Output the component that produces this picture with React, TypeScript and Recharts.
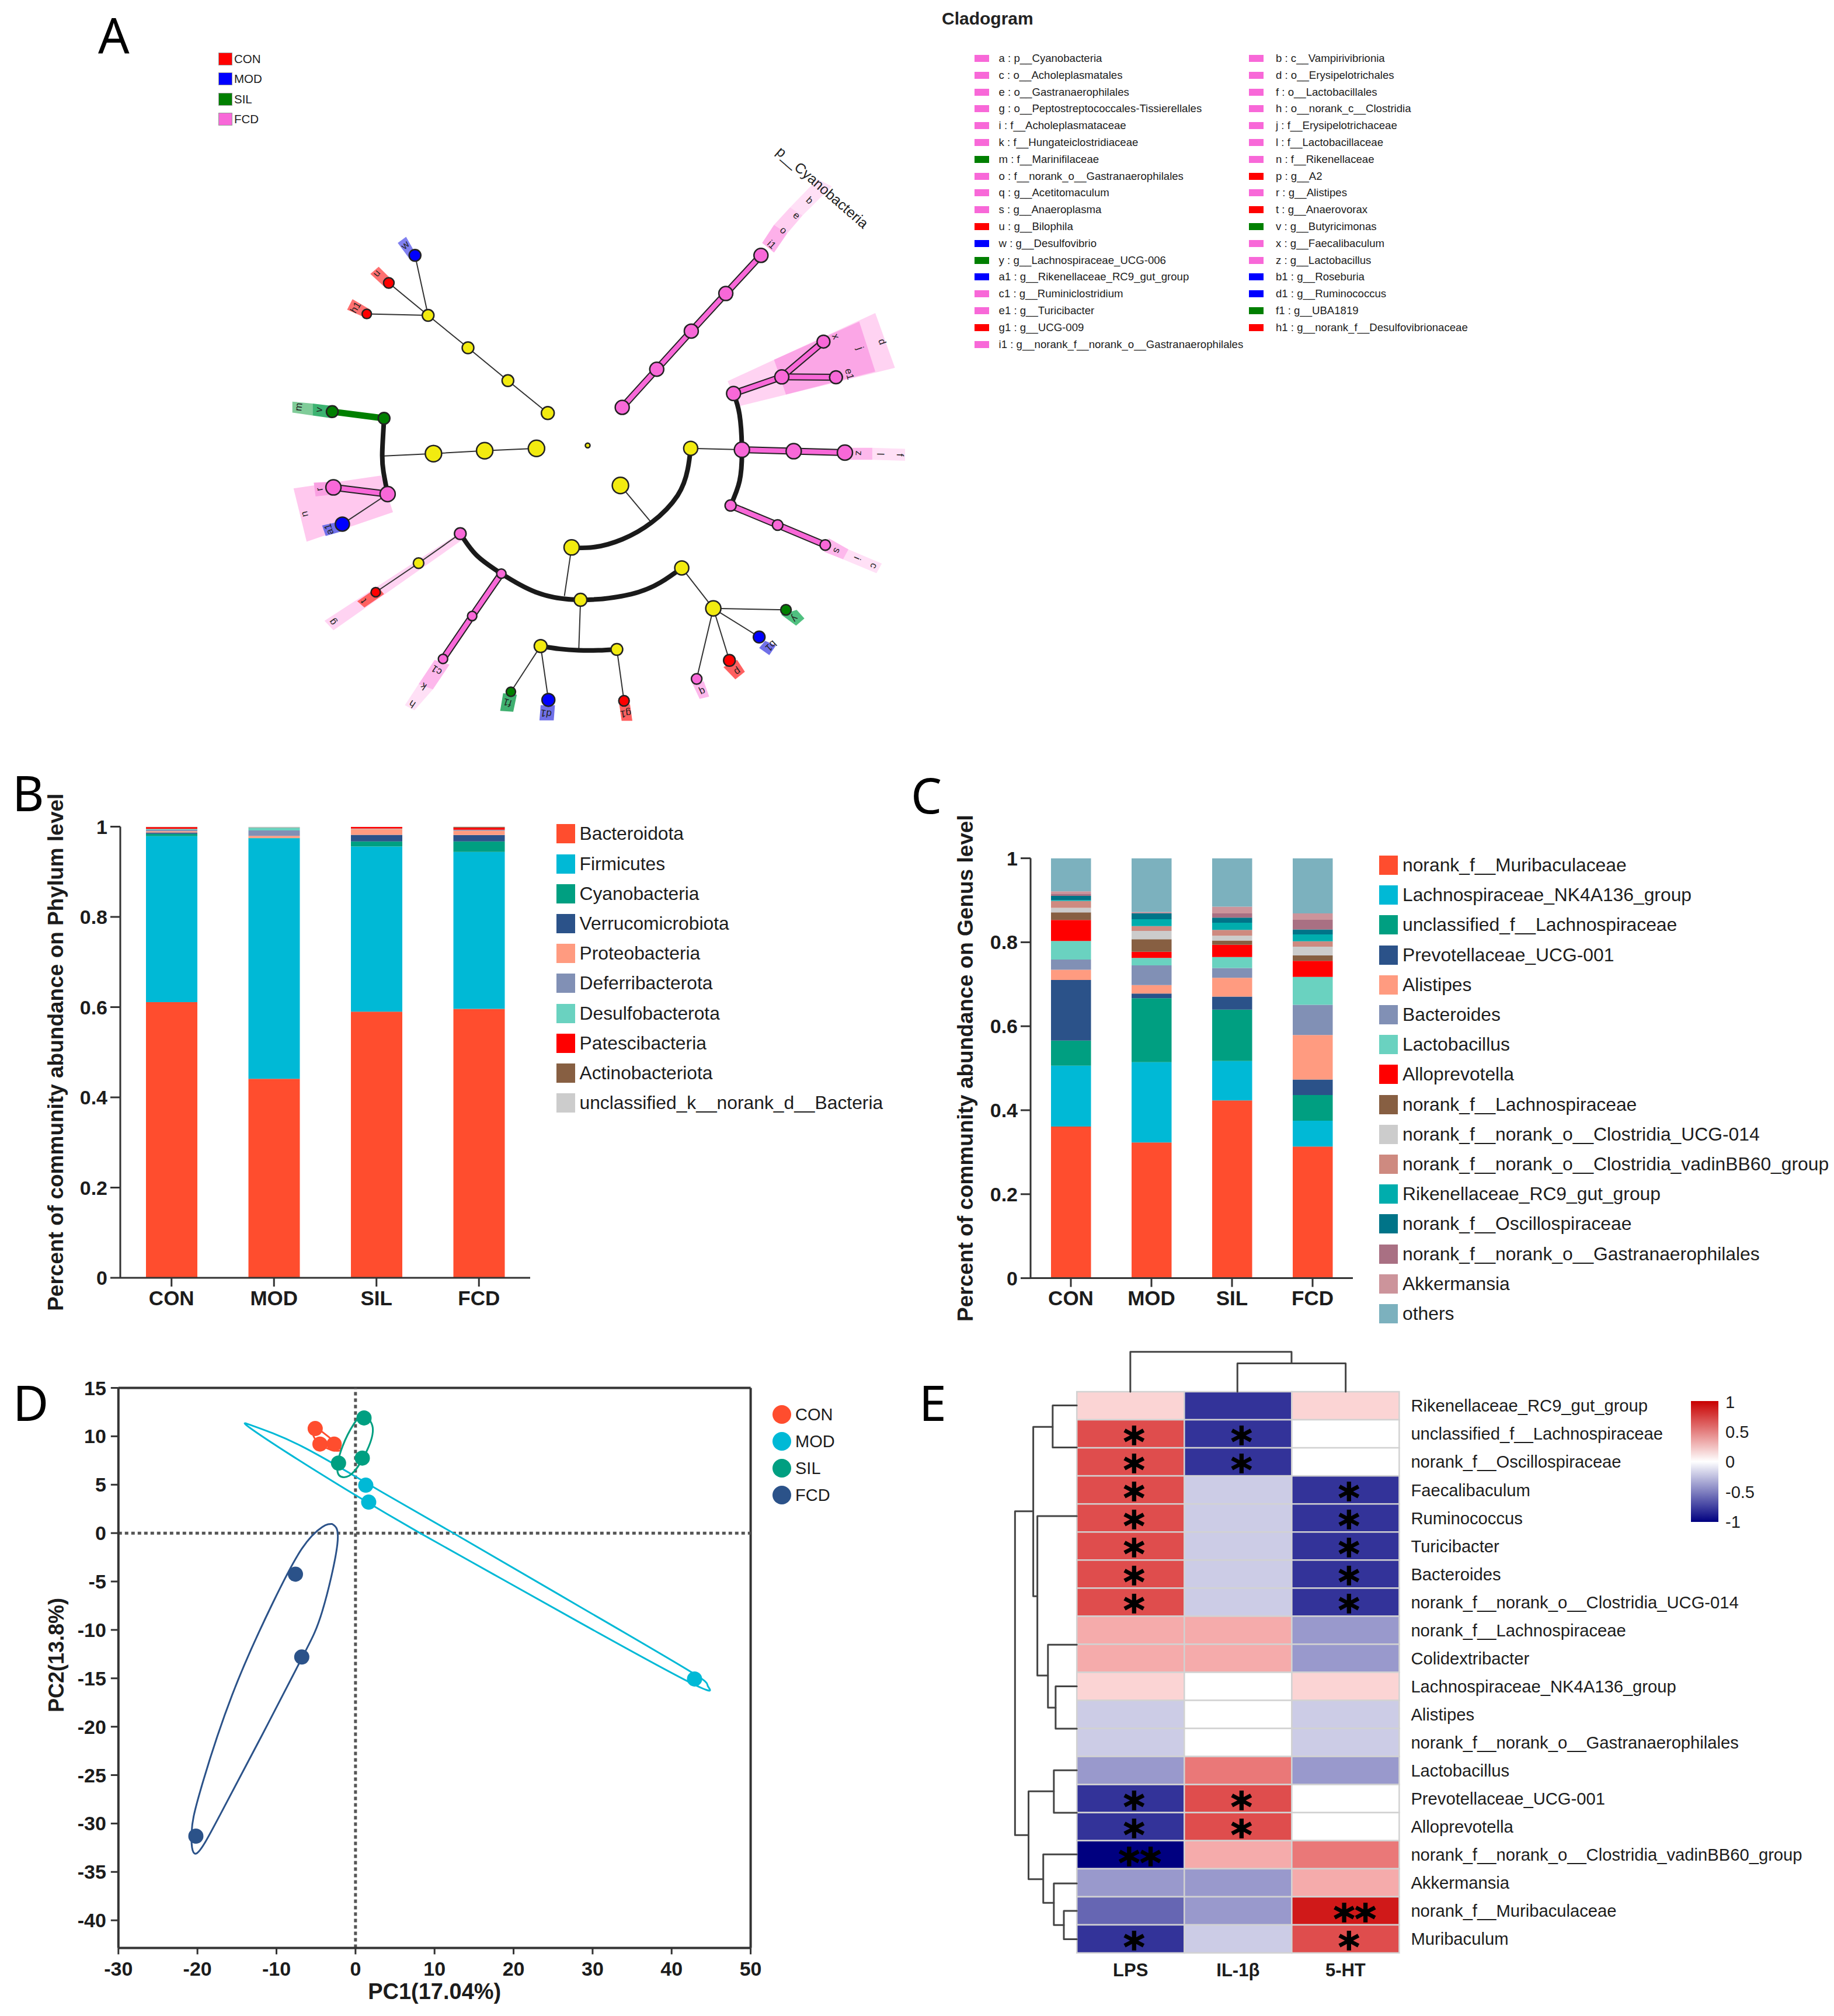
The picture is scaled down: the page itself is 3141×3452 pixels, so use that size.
import {
  BarChart, Bar, ScatterChart, Scatter, XAxis, YAxis, Legend, ReferenceLine,
} from 'recharts'

const SANS = '"Liberation Sans", Arial, sans-serif'
const INK = '#1c1c1c'
const AXIS = '#333333'

// ---- shared groups
const groups = ['CON', 'MOD', 'SIL', 'FCD']

// ---- panel B, phylum level, one value per group
const phylumNames = ['Bacteroidota', 'Firmicutes', 'Cyanobacteria', 'Verrucomicrobiota', 'Proteobacteria', 'Deferribacterota', 'Desulfobacterota', 'Patescibacteria', 'Actinobacteriota', 'unclassified_k__norank_d__Bacteria']
const phylumColors = ['#FF4D2E', '#00B9D6', '#009F81', '#2B5289', '#FF9B80', '#8190B5', '#6AD2C0', '#FF0000', '#875F42', '#CCCCCC']
const bacteroidota = [0.611, 0.441, 0.59, 0.596]
const firmicutes = [0.368, 0.533, 0.366, 0.348]
const cyanobacteria = [0.005, 0.001, 0.0112, 0.0232]
const verrucomicrobiota = [0.003, 0.0002, 0.0146, 0.0142]
const proteobacteria = [0.003, 0.0045, 0.0129, 0.0099]
const deferribacterota = [0.003, 0.012, 0.0005, 0.0015]
const desulfobacterota = [0.002, 0.006, 0.0005, 0.0005]
const patescibacteria = [0.004, 0, 0.0035, 0.0045]
const actinobacteriota = [0.0005, 0.0005, 0.0003, 0.002]
const unclassifiedBacteria = [0.0005, 0.0018, 0.0005, 0.0002]
const phylumValues = [bacteroidota, firmicutes, cyanobacteria, verrucomicrobiota, proteobacteria, deferribacterota, desulfobacterota, patescibacteria, actinobacteriota, unclassifiedBacteria]

// ---- panel C, genus level
const genusNames = ['norank_f__Muribaculaceae', 'Lachnospiraceae_NK4A136_group', 'unclassified_f__Lachnospiraceae', 'Prevotellaceae_UCG-001', 'Alistipes', 'Bacteroides', 'Lactobacillus', 'Alloprevotella', 'norank_f__Lachnospiraceae', 'norank_f__norank_o__Clostridia_UCG-014', 'norank_f__norank_o__Clostridia_vadinBB60_group', 'Rikenellaceae_RC9_gut_group', 'norank_f__Oscillospiraceae', 'norank_f__norank_o__Gastranaerophilales', 'Akkermansia', 'others']
const genusColors = ['#FF4D2E', '#00B9D6', '#009F81', '#2B5289', '#FF9B80', '#8190B5', '#6AD2C0', '#FF0000', '#875F42', '#CCCCCC', '#CE8A80', '#00ADAD', '#007488', '#A97083', '#CC949B', '#7CB1BE']
const muribaculaceae = [0.361, 0.323, 0.4233, 0.3133]
const nk4a136 = [0.145, 0.1915, 0.094, 0.0617]
const unclassifiedLachno = [0.06, 0.1522, 0.1222, 0.0611]
const prevotellaceae = [0.144, 0.011, 0.0309, 0.0369]
const alistipes = [0.0244, 0.0203, 0.0451, 0.1061]
const bacteroides = [0.0244, 0.047, 0.0231, 0.0719]
const lactobacillus = [0.0443, 0.0176, 0.0263, 0.0664]
const alloprevotella = [0.0498, 0.0147, 0.029, 0.0382]
const norankLachno = [0.0184, 0.03, 0.0102, 0.013]
const ucg014 = [0.0106, 0.0198, 0.0115, 0.0207]
const vadinBB60 = [0.0162, 0.0115, 0.0138, 0.0129]
const rc9 = [0.0023, 0.0162, 0.0171, 0.0166]
const oscillo = [0.0101, 0.0138, 0.012, 0.0115]
const gastranaero = [0.005, 0.001, 0.0101, 0.0231]
const akkermansia = [0.0056, 0.0022, 0.0161, 0.0152]
const others = [0.0853, 0.1282, 0.1153, 0.1314]
const genusValues = [muribaculaceae, nk4a136, unclassifiedLachno, prevotellaceae, alistipes, bacteroides, lactobacillus, alloprevotella, norankLachno, ucg014, vadinBB60, rc9, oscillo, gastranaero, akkermansia, others]

const fractionTicks = [0, 0.2, 0.4, 0.6, 0.8, 1]

// ---- panel D, PCA
const pcaColors = ['#FF4D2E', '#00B9D6', '#009F81', '#2B5289']
const pcaPoints = [
  [[-5.1, 10.8], [-4.5, 9.2], [-2.7, 9.2]],
  [[1.3, 4.95], [1.67, 3.2], [42.9, -15.07]],
  [[1.08, 11.9], [0.86, 7.75], [-2.15, 7.23]],
  [[-7.6, -4.24], [-6.8, -12.8], [-20.2, -31.3]],
]
const conRing = [[-5.6, 11.3], [-3.8, 10.2], [-2.0, 8.9], [-2.4, 8.5], [-4.2, 9.0], [-5.3, 10.0], [-5.6, 11.3]]
const modRing = [[-13.84, 11.33], [-6.78, 8.96], [2.04, 4.86], [11.95, 0.2], [28.49, -7.65], [42.45, -14.34], [44.58, -15.8], [42.81, -15.63], [28.49, -9.29], [17.46, -4.25], [7.91, 0.12], [-0.17, 4.0], [-8.25, 8.1], [-13.4, 10.9], [-13.84, 11.33]]
const silRing = [[0.93, 12.41], [2.18, 10.9], [1.45, 8.53], [-0.17, 6.37], [-1.49, 5.77], [-2.3, 6.5], [-1.64, 8.96], [-0.17, 11.33], [0.93, 12.41]]
const fcdRing = [[-2.96, 0.94], [-2.3, -1.18], [-4.21, -8.08], [-6.78, -12.9], [-11.92, -21.02], [-17.07, -29.0], [-20.15, -33.1], [-20.74, -30.94], [-19.64, -26.63], [-15.6, -16.7], [-10.46, -7.2], [-6.78, -1.6], [-4.21, 0.63], [-2.96, 0.94]]
const pcaXTicks = [-30, -20, -10, 0, 10, 20, 30, 40, 50]
const pcaYTicks = [15, 10, 5, 0, -5, -10, -15, -20, -25, -30, -35, -40]

// ---- panel E, correlation heatmap
const heatRows = ['Rikenellaceae_RC9_gut_group', 'unclassified_f__Lachnospiraceae', 'norank_f__Oscillospiraceae', 'Faecalibaculum', 'Ruminococcus', 'Turicibacter', 'Bacteroides', 'norank_f__norank_o__Clostridia_UCG-014', 'norank_f__Lachnospiraceae', 'Colidextribacter', 'Lachnospiraceae_NK4A136_group', 'Alistipes', 'norank_f__norank_o__Gastranaerophilales', 'Lactobacillus', 'Prevotellaceae_UCG-001', 'Alloprevotella', 'norank_f__norank_o__Clostridia_vadinBB60_group', 'Akkermansia', 'norank_f__Muribaculaceae', 'Muribaculum']
const heatCols = ['LPS', 'IL-1β', '5-HT']
const lpsCorr = [0.17, 0.7, 0.7, 0.7, 0.7, 0.7, 0.7, 0.7, 0.33, 0.33, 0.17, -0.2, -0.2, -0.4, -0.8, -0.8, -1, -0.4, -0.6, -0.8]
const il1bCorr = [-0.8, -0.8, -0.8, -0.2, -0.2, -0.2, -0.2, -0.2, 0.33, 0.33, 0, 0, 0, 0.53, 0.7, 0.7, 0.33, -0.4, -0.4, -0.2]
const htCorr = [0.17, 0, 0, -0.8, -0.8, -0.8, -0.8, -0.8, -0.4, -0.4, 0.17, -0.2, -0.2, -0.4, 0, 0, 0.53, 0.33, 0.9, 0.7]
const lpsStars = [0, 1, 1, 1, 1, 1, 1, 1, 0, 0, 0, 0, 0, 0, 1, 1, 2, 0, 0, 1]
const il1bStars = [0, 1, 1, 0, 0, 0, 0, 0, 0, 0, 0, 0, 0, 0, 1, 1, 0, 0, 0, 0]
const htStars = [0, 0, 0, 1, 1, 1, 1, 1, 0, 0, 0, 0, 0, 0, 0, 0, 0, 0, 2, 1]
const heatCorr = [lpsCorr, il1bCorr, htCorr]
const heatStars = [lpsStars, il1bStars, htStars]
const scaleLabels = ['1', '0.5', '0', '-0.5', '-1']

// row and column trees, read in a 1569 x 1569 frame laid over the panel
const rowTree = [
  [[282, 145], [241, 145], [241, 243], [282, 243]],
  [[241, 195], [208, 195], [208, 590], [215, 590]],
  [[282, 403], [215, 403], [215, 775], [233, 775]],
  [[282, 703], [233, 703], [233, 850], [246, 850]],
  [[282, 800], [246, 800], [246, 899], [282, 899]],
  [[208, 392], [177, 392], [177, 1147], [200, 1147]],
  [[243, 1045], [200, 1045], [200, 1250], [225, 1250]],
  [[282, 996], [243, 996], [243, 1095], [282, 1095]],
  [[282, 1192], [225, 1192], [225, 1305], [243, 1305]],
  [[282, 1260], [243, 1260], [243, 1357], [260, 1357]],
  [[282, 1324], [260, 1324], [260, 1390], [282, 1390]],
  [[373, 113], [373, 20], [647, 20], [647, 47]],
  [[555, 113], [555, 47], [739, 47], [739, 113]],
]

// ---- panel A, cladogram, read in a 1569 x 1569 frame laid over the panel
const cladeGroups = ['CON', 'MOD', 'SIL', 'FCD']
const RED = '#FF0000'
const BLUE = '#0000FF'
const GREEN = '#007F00'
const PINK = '#F868D8'
const YELLOW = '#F2EB10'
const cladeColors = [RED, BLUE, GREEN, PINK]

const keyLeft = ['a : p__Cyanobacteria', 'c : o__Acholeplasmatales', 'e : o__Gastranaerophilales', 'g : o__Peptostreptococcales-Tissierellales', 'i : f__Acholeplasmataceae', 'k : f__Hungateiclostridiaceae', 'm : f__Marinifilaceae', 'o : f__norank_o__Gastranaerophilales', 'q : g__Acetitomaculum', 's : g__Anaeroplasma', 'u : g__Bilophila', 'w : g__Desulfovibrio', 'y : g__Lachnospiraceae_UCG-006', 'a1 : g__Rikenellaceae_RC9_gut_group', 'c1 : g__Ruminiclostridium', 'e1 : g__Turicibacter', 'g1 : g__UCG-009', 'i1 : g__norank_f__norank_o__Gastranaerophilales']
const keyLeftColors = [PINK, PINK, PINK, PINK, PINK, PINK, GREEN, PINK, PINK, PINK, RED, BLUE, GREEN, BLUE, PINK, PINK, RED, PINK]
const keyRight = ['b : c__Vampirivibrionia', 'd : o__Erysipelotrichales', 'f : o__Lactobacillales', 'h : o__norank_c__Clostridia', 'j : f__Erysipelotrichaceae', 'l : f__Lactobacillaceae', 'n : f__Rikenellaceae', 'p : g__A2', 'r : g__Alistipes', 't : g__Anaerovorax', 'v : g__Butyricimonas', 'x : g__Faecalibaculum', 'z : g__Lactobacillus', 'b1 : g__Roseburia', 'd1 : g__Ruminococcus', 'f1 : g__UBA1819', 'h1 : g__norank_f__Desulfovibrionaceae']
const keyRightColors = [PINK, PINK, PINK, PINK, PINK, PINK, PINK, RED, PINK, RED, GREEN, PINK, PINK, BLUE, BLUE, GREEN, RED]

// x, y, radius, colour
const cladeNodes: [number, number, number, string][] = [
  [987, 935, 4, YELLOW],
  [1045, 855, 12, PINK], [1103, 775, 12, PINK], [1161, 695, 12, PINK], [1219, 616, 12, PINK], [1278, 536, 12, PINK],
  [1232, 826, 12, PINK], [1313, 791, 12, PINK], [1383, 717, 11, PINK], [1404, 792, 11, PINK],
  [1160, 941, 12, YELLOW], [1246, 944, 13, PINK], [1333, 947, 13, PINK], [1419, 950, 13, PINK],
  [1227, 1061, 9.5, PINK], [1306, 1102, 9, PINK], [1386, 1144, 9, PINK],
  [1042, 1019, 14, YELLOW], [960, 1149, 13, YELLOW], [975, 1259, 11, YELLOW], [1145, 1192, 12, YELLOW],
  [773, 1120, 10, PINK], [842, 1204, 8, PINK], [793, 1293, 8, PINK], [744, 1383, 8, PINK],
  [703, 1182, 9, YELLOW], [631, 1243, 8, RED],
  [1198, 1277, 13, YELLOW], [1320, 1280, 9, GREEN], [1275, 1337, 10, BLUE], [1225, 1386, 10, RED], [1170, 1425, 9, PINK],
  [908, 1356, 11, YELLOW], [1036, 1363, 10, YELLOW], [858, 1452, 8, GREEN], [921, 1469, 11, BLUE], [1048, 1471, 9, RED],
  [901, 941, 14, YELLOW], [814, 946, 14, YELLOW], [728, 952, 14, YELLOW],
  [645, 878, 10, GREEN], [558, 864, 10, GREEN],
  [651, 1037, 13, PINK], [560, 1023, 13, PINK], [575, 1100, 12, BLUE],
  [920, 867, 11, YELLOW], [853, 799, 10, YELLOW], [786, 730, 10, YELLOW], [719, 662, 10, YELLOW],
  [653, 594, 9, RED], [697, 536, 10, BLUE], [616, 659, 8, RED],
]

const cladeArcs = [
  [[1160, 941], [1155, 985], [1138, 1040], [1094, 1097], [1045, 1132], [1000, 1148], [960, 1150]],
  [[773, 1120], [800, 1165], [842, 1204], [900, 1243], [975, 1259], [1060, 1247], [1110, 1222], [1145, 1192]],
  [[908, 1356], [940, 1362], [972, 1365], [1005, 1365], [1036, 1363]],
  [[645, 880], [642, 950], [644, 990], [651, 1037]],
  [[1232, 826], [1242, 870], [1246, 944], [1242, 1010], [1227, 1061]],
]

const cladeTwigs = [
  [[1042, 1019], [1094, 1097]], [[960, 1149], [948, 1250]], [[975, 1259], [972, 1365]], [[1145, 1192], [1198, 1277]],
  [[1198, 1277], [1320, 1280]], [[1198, 1277], [1275, 1337]], [[1198, 1277], [1225, 1386]], [[1198, 1277], [1170, 1425]],
  [[908, 1356], [858, 1452]], [[908, 1356], [921, 1469]], [[1036, 1363], [1048, 1471]],
  [[773, 1120], [703, 1182], [631, 1243]],
  [[901, 941], [814, 946], [728, 952], [645, 957]],
  [[1160, 941], [1246, 944]],
  [[920, 867], [853, 799], [786, 730], [719, 662]],
  [[719, 662], [653, 594]], [[719, 662], [697, 536]], [[719, 662], [616, 659]],
  [[651, 1037], [575, 1100]],
]

const pinkBranches = [
  [[1045, 855], [1103, 775], [1161, 695], [1219, 616], [1278, 536]],
  [[1232, 826], [1313, 791], [1383, 717]],
  [[1313, 791], [1404, 792]],
  [[1246, 944], [1333, 947], [1419, 950]],
  [[1227, 1061], [1306, 1102], [1386, 1144]],
  [[651, 1037], [560, 1023]],
  [[842, 1204], [793, 1293], [744, 1383]],
]
const greenBranches = [[[645, 878], [558, 864]]]

// shaded patches behind the taxa: fill, corners
const cladePatches: [string, number[][]][] = [
  ['#FFE0F6', [[1373, 376], [1397, 391], [1348, 452], [1327, 435]]],
  ['#FFCFF1', [[1327, 435], [1348, 452], [1322, 490], [1300, 472]]],
  ['#FDB0EA', [[1300, 472], [1322, 490], [1300, 530], [1280, 510]]],
  ['#FFD3F2', [[1222, 800], [1470, 657], [1503, 772], [1240, 853]]],
  ['#FBA6E6', [[1300, 755], [1443, 675], [1470, 780], [1320, 828]]],
  ['#FFE0F6', [[1465, 940], [1520, 942], [1520, 967], [1465, 965]]],
  ['#FDB8EC', [[1420, 940], [1465, 940], [1465, 965], [1420, 965]]],
  ['#FFE0F6', [[1425, 1153], [1481, 1183], [1472, 1203], [1416, 1174]]],
  ['#FDB8EC', [[1392, 1130], [1425, 1153], [1416, 1174], [1384, 1158]]],
  ['#FFC8EE', [[493, 1025], [640, 998], [660, 1075], [515, 1137]]],
  ['#F9A0E2', [[527, 1013], [560, 1011], [560, 1038], [530, 1042]]],
  ['#7070E8', [[541, 1103], [570, 1095], [575, 1115], [547, 1125]]],
  ['#80CC99', [[491, 843], [525, 847], [525, 872], [491, 866]]],
  ['#3CB371', [[525, 847], [558, 852], [558, 878], [525, 872]]],
  ['#8080F0', [[668, 510], [682, 497], [700, 537], [690, 547]]],
  ['#FF7070', [[622, 575], [636, 560], [662, 592], [648, 605]]],
  ['#FF7070', [[583, 650], [592, 628], [622, 650], [616, 668]]],
  ['#FFD3F2', [[545, 1303], [770, 1120], [780, 1130], [560, 1323]]],
  ['#FF6060', [[600, 1262], [635, 1232], [645, 1247], [612, 1275]]],
  ['#FFE0F6', [[680, 1480], [703, 1436], [727, 1447], [696, 1491]]],
  ['#FDB8EC', [[703, 1436], [730, 1385], [755, 1395], [727, 1447]]],
  ['#50C080', [[1312, 1290], [1338, 1280], [1351, 1298], [1337, 1313]]],
  ['#7070E8', [[1285, 1345], [1303, 1355], [1292, 1375], [1275, 1360]]],
  ['#FF6060', [[1215, 1400], [1238, 1385], [1251, 1410], [1235, 1426]]],
  ['#FDB8EC', [[1163, 1435], [1182, 1430], [1191, 1462], [1175, 1467]]],
  ['#40B070', [[845, 1455], [868, 1458], [862, 1494], [840, 1492]]],
  ['#7070E8', [[908, 1480], [932, 1480], [930, 1512], [906, 1512]]],
  ['#FF6060', [[1040, 1478], [1058, 1478], [1062, 1513], [1044, 1513]]],
]

// taxon letter, x, y
const cladeLetters: [string, number, number][] = [
  ['b', 1360, 420], ['e', 1338, 452], ['o', 1316, 483], ['i1', 1296, 513],
  ['x', 1404, 706], ['j', 1445, 731], ['d', 1482, 717], ['e1', 1427, 785],
  ['z', 1443, 951], ['l', 1479, 953], ['f', 1512, 955],
  ['s', 1406, 1156], ['i', 1440, 1172], ['c', 1468, 1188],
  ['y', 1335, 1299], ['b1', 1295, 1356], ['p', 1239, 1410], ['q', 1180, 1452],
  ['g1', 1051, 1498], ['d1', 917, 1498], ['f1', 852, 1475],
  ['c1', 733, 1407], ['k', 711, 1441], ['h', 692, 1478],
  ['t', 610, 1262], ['g', 558, 1306],
  ['a1', 552, 1111], ['n', 511, 1079], ['r', 536, 1027],
  ['m', 501, 854], ['v', 535, 860],
  ['h1', 597, 645], ['u', 632, 573], ['w', 680, 514],
]
const cladeTitle = { x: 1380, y: 395, text: 'p__Cyanobacteria' }

const toPoints = (pts: number[][]) => pts.map(([x, y]) => ({ x, y }))

const noDot = () => null

// a frame of 1569 x 1569 stretched over a panel, for drawings with no axes
function FrameChart({ width, height, children, style }: any) {
  return (
    <div style={{ position: 'absolute', ...style }}>
      <ScatterChart width={width} height={height} margin={{ top: 0, right: 0, bottom: 0, left: 0 }}>
        <XAxis type="number" dataKey="x" domain={[0, 1569]} hide />
        <YAxis type="number" dataKey="y" domain={[0, 1569]} reversed hide />
        {children}
      </ScatterChart>
    </div>
  )
}

function path(key: string, pts: number[][], stroke: string, strokeWidth: number, joint = 'linear') {
  return (
    <Scatter
      key={key}
      data={toPoints(pts)}
      line={{ stroke, strokeWidth, strokeLinecap: 'round', strokeLinejoin: 'round', fill: 'none' }}
      lineJointType={joint as any}
      shape={noDot}
      legendType="none"
      isAnimationActive={false}
    />
  )
}

function Swatches({ names, colors, rowHeight, fontSize, boxWidth, boxHeight, gap, round, outlined }: any) {
  return (
    <div style={{ fontFamily: SANS, fontSize, color: INK }}>
      {names.map((name: string, i: number) => (
        <div key={name} style={{ height: rowHeight, display: 'flex', alignItems: 'center', whiteSpace: 'nowrap' }}>
          <span
            style={{
              width: boxWidth, height: boxHeight, background: colors[i], borderRadius: round ? '50%' : 0,
              marginRight: gap, flex: 'none', outline: outlined ? '1px solid #999999' : 'none',
            }}
          />
          {name}
        </div>
      ))}
    </div>
  )
}

function StackedPanel({ left, top, width, height, plotLeft, plotTop, plotRight, plotBottom, barSize, names, colors, values, title, titleX, legendLeft, legendTop }: any) {
  const rows = groups.map((group, g) => {
    const row: any = { group }
    names.forEach((name: string, s: number) => { row[name] = values[s][g] })
    return row
  })
  return (
    <div style={{ position: 'absolute', left, top }}>
      <BarChart
        width={width}
        height={height}
        data={rows}
        margin={{ top: plotTop, right: width - plotRight, bottom: 0, left: 0 }}
      >
        <XAxis
          dataKey="group"
          height={height - plotBottom}
          tickSize={15}
          tickMargin={7}
          interval={0}
          axisLine={{ stroke: AXIS, strokeWidth: 3 }}
          tickLine={{ stroke: AXIS, strokeWidth: 3 }}
          tick={{ fontFamily: SANS, fontWeight: 700, fontSize: 35, fill: INK }}
        />
        <YAxis
          type="number"
          width={plotLeft}
          domain={[0, 1]}
          allowDataOverflow
          ticks={fractionTicks}
          interval={0}
          tickSize={17}
          tickMargin={5}
          axisLine={{ stroke: AXIS, strokeWidth: 3 }}
          tickLine={{ stroke: AXIS, strokeWidth: 3 }}
          tick={{ fontFamily: SANS, fontWeight: 700, fontSize: 34, fill: INK }}
          label={{
            value: title,
            angle: -90,
            position: 'insideLeft',
            offset: titleX,
            style: { textAnchor: 'middle', fontFamily: SANS, fontWeight: 700, fontSize: 37, fill: INK },
          }}
        />
        {names.map((name: string, s: number) => (
          <Bar key={name} dataKey={name} stackId="all" fill={colors[s]} barSize={barSize} isAnimationActive={false} />
        ))}
        <Legend
          layout="vertical"
          align="center"
          verticalAlign="middle"
          wrapperStyle={{ left: legendLeft, top: legendTop, width: 'auto' }}
          content={() => (
            <Swatches names={names} colors={colors} rowHeight={51.2} fontSize={31.8} boxWidth={32} boxHeight={33} gap={8} />
          )}
        />
      </BarChart>
    </div>
  )
}

function PcaPanel() {
  const ringSets = [conRing, modRing, silRing, fcdRing]
  return (
    <div style={{ position: 'absolute', left: 0, top: 2330 }}>
      <ScatterChart width={1560} height={1122} margin={{ top: 46.5, right: 274.4, bottom: 0, left: 0 }}>
        <XAxis
          type="number"
          dataKey="x"
          domain={[-30, 50]}
          ticks={pcaXTicks}
          interval={0}
          height={116.6}
          tickSize={11}
          tickMargin={12}
          allowDataOverflow
          axisLine={{ stroke: AXIS, strokeWidth: 4 }}
          tickLine={{ stroke: AXIS, strokeWidth: 3 }}
          tick={{ fontFamily: SANS, fontWeight: 700, fontSize: 34, fill: INK }}
          label={{ value: 'PC1(17.04%)', position: 'insideBottom', offset: 29, style: { fontFamily: SANS, fontWeight: 700, fontSize: 38, fill: INK } }}
        />
        <YAxis
          type="number"
          dataKey="y"
          domain={[-42.85, 15]}
          ticks={pcaYTicks}
          interval={0}
          width={202.8}
          tickSize={13}
          tickMargin={8}
          allowDataOverflow
          axisLine={{ stroke: AXIS, strokeWidth: 4 }}
          tickLine={{ stroke: AXIS, strokeWidth: 3 }}
          tick={{ fontFamily: SANS, fontWeight: 700, fontSize: 34, fill: INK }}
          label={{ value: 'PC2(13.8%)', angle: -90, position: 'insideLeft', offset: 96, dy: -22, style: { textAnchor: 'middle', fontFamily: SANS, fontWeight: 700, fontSize: 36, fill: INK } }}
        />
        <ReferenceLine y={15} stroke={AXIS} strokeWidth={4} />
        <ReferenceLine x={50} stroke={AXIS} strokeWidth={4} />
        <ReferenceLine y={0} stroke="#555555" strokeWidth={5} strokeDasharray="6 5" />
        <ReferenceLine x={0} stroke="#555555" strokeWidth={5} strokeDasharray="6 5" />
        {ringSets.map((ring, i) => path(`ring-${i}`, ring, pcaColors[i], 3, 'natural'))}
        {groups.map((group, i) => (
          <Scatter
            key={group}
            name={group}
            data={toPoints(pcaPoints[i])}
            fill={pcaColors[i]}
            shape={(p: any) => <circle cx={p.cx} cy={p.cy} r={13} fill={pcaColors[i]} />}
            isAnimationActive={false}
          />
        ))}
        <Legend
          layout="vertical"
          align="center"
          verticalAlign="middle"
          wrapperStyle={{ left: 1323, top: 69, width: 'auto' }}
          content={() => (
            <Swatches names={groups} colors={pcaColors} rowHeight={46.1} fontSize={29} boxWidth={32} boxHeight={32} gap={7} round />
          )}
        />
      </ScatterChart>
    </div>
  )
}

function heatColor(v: number) {
  const t = Math.abs(v)
  if (v >= 0) {
    // the reds stay vivid until close to the top of the scale
    const other = Math.round(255 * (1 - t))
    return `rgb(${Math.round(255 - 55 * t ** 1.5)},${other},${other})`
  }
  const other = Math.round(255 * (1 - t))
  return `rgb(${other},${other},${Math.round(255 - 127 * t)})`
}

const CELL_W = 184
const CELL_H = 48.05

function HeatCell({ cx, cy, payload }: any) {
  const stars = '*'.repeat(payload.stars)
  return (
    <g>
      <rect
        x={cx - CELL_W / 2}
        y={cy - CELL_H / 2}
        width={CELL_W}
        height={CELL_H}
        fill={heatColor(payload.corr)}
        stroke="#D2D2D2"
        strokeWidth={2.5}
      />
      {stars && (
        <text
          x={cx + (payload.stars > 1 ? 16 : 6)}
          y={cy + 38}
          textAnchor="middle"
          fontFamily='"DejaVu Sans"'
          fontWeight={700}
          fontSize={70}
          fill="#000000"
          stroke="#000000"
          strokeWidth={1.5}
        >
          {stars}
        </text>
      )}
    </g>
  )
}

function HeatPanel() {
  const cells = heatCorr.flatMap((col, c) =>
    col.map((corr, r) => ({ x: c + 0.5, y: r + 0.5, corr, stars: heatStars[c][r] })))
  return (
    <>
      <div style={{ position: 'absolute', left: 1560, top: 2300 }}>
        <ScatterChart width={1581} height={1152} margin={{ top: 83, right: 0, bottom: 0, left: 284.2 }}>
          <XAxis
            type="number"
            dataKey="x"
            domain={[0, 3]}
            ticks={[0.5, 1.5, 2.5]}
            interval={0}
            height={108}
            tickSize={0}
            tickMargin={18}
            axisLine={false}
            tickLine={false}
            tickFormatter={(v: number) => heatCols[Math.floor(v)]}
            tick={{ fontFamily: SANS, fontWeight: 700, fontSize: 31, fill: INK }}
          />
          <YAxis
            type="number"
            dataKey="y"
            orientation="right"
            reversed
            domain={[0, 20]}
            ticks={heatRows.map((_, i) => i + 0.5)}
            interval={0}
            width={744.6}
            tickSize={0}
            tickMargin={20}
            axisLine={false}
            tickLine={false}
            tickFormatter={(v: number) => heatRows[Math.floor(v)]}
            tick={{ fontFamily: SANS, fontSize: 29.2, fill: INK }}
          />
          <Scatter data={cells} shape={(p: any) => <HeatCell {...p} />} isAnimationActive={false} />
        </ScatterChart>
      </div>
      <FrameChart width={1581} height={1152} style={{ left: 1560, top: 2300 }}>
        {rowTree.map((seg, i) => path(`tree-${i}`, seg, '#444444', 3))}
      </FrameChart>
      <div
        style={{
          position: 'absolute', left: 2896, top: 2399, width: 46.5, height: 207,
          background: 'linear-gradient(to bottom, #C80000, #E47F7F 25%, #FFFFFF 50%, #8080C0 75%, #000080)',
        }}
      />
      {scaleLabels.map((label, i) => (
        <div
          key={label}
          style={{
            position: 'absolute', left: 2955, top: 2400.6 + i * 51.4 - 18, fontFamily: SANS, fontSize: 29,
            lineHeight: '36px', color: INK,
          }}
        >
          {label}
        </div>
      ))}
    </>
  )
}

function Cladogram() {
  const nodeShape = (p: any) => (
    <circle cx={p.cx} cy={p.cy} r={p.payload.r} fill={p.payload.color} stroke="#222222" strokeWidth={2.5} />
  )
  const letterShape = (p: any) => {
    // letters turn with the angle they sit at around the tree's centre
    const angle = (Math.atan2(p.cy - 762.8, p.cx - 1006.5) * 180) / Math.PI + 90
    return (
      <text
        x={p.cx}
        y={p.cy + 6}
        transform={`rotate(${angle} ${p.cx} ${p.cy})`}
        textAnchor="middle"
        fontFamily={SANS}
        fontSize={17}
        fill="#222222"
      >
        {p.payload.letter}
      </text>
    )
  }
  const titleShape = (p: any) => (
    <text
      x={p.cx}
      y={p.cy}
      transform={`rotate(41 ${p.cx} ${p.cy})`}
      textAnchor="middle"
      dominantBaseline="middle"
      fontFamily={SANS}
      fontSize={24.5}
      fill="#222222"
    >
      {p.payload.text}
    </text>
  )
  return (
    <FrameChart width={1600} height={1280} style={{ left: 0, top: 0 }}>
      {cladePatches.map(([fill, pts], i) => (
        <Scatter
          key={`patch-${i}`}
          data={toPoints(pts)}
          line={{ fill, stroke: 'none' }}
          lineJointType="linearClosed"
          shape={noDot}
          isAnimationActive={false}
        />
      ))}
      {cladeTwigs.map((pts, i) => path(`twig-${i}`, pts, '#333333', 2))}
      {cladeArcs.map((pts, i) => path(`arc-${i}`, pts, '#1a1a1a', 8, 'natural'))}
      {greenBranches.map((pts, i) => path(`green-${i}`, pts, GREEN, 11))}
      {pinkBranches.map((pts, i) => path(`pink-out-${i}`, pts, '#222222', 12))}
      {pinkBranches.map((pts, i) => path(`pink-${i}`, pts, PINK, 8))}
      <Scatter
        data={cladeNodes.map(([x, y, r, color]) => ({ x, y, r, color }))}
        shape={nodeShape}
        isAnimationActive={false}
      />
      <Scatter
        data={cladeLetters.map(([letter, x, y]) => ({ letter, x, y }))}
        shape={letterShape}
        isAnimationActive={false}
      />
      <Scatter data={[cladeTitle]} shape={titleShape} isAnimationActive={false} />
    </FrameChart>
  )
}

function CladeKey() {
  const rowStyle = { position: 'absolute', fontFamily: SANS, fontSize: 18.6, color: '#222222' } as const
  return (
    <>
      <div style={{ ...rowStyle, left: 1613, top: 15, fontSize: 30, fontWeight: 700 }}>Cladogram</div>
      <div style={{ ...rowStyle, left: 1669, top: 85.6 }}>
        <Swatches names={keyLeft} colors={keyLeftColors} rowHeight={28.8} fontSize={18.6} boxWidth={25} boxHeight={12} gap={16.6} />
      </div>
      <div style={{ ...rowStyle, left: 2139, top: 85.6 }}>
        <Swatches names={keyRight} colors={keyRightColors} rowHeight={28.8} fontSize={18.6} boxWidth={25} boxHeight={12} gap={21} />
      </div>
      <div style={{ ...rowStyle, left: 375, top: 84 }}>
        <Swatches names={cladeGroups} colors={cladeColors} rowHeight={34.3} fontSize={20.5} boxWidth={22} boxHeight={20} gap={4} outlined />
      </div>
    </>
  )
}

const panelLetters = [
  ['A', 168, 10], ['B', 21, 1307], ['C', 1560, 1311], ['D', 22, 2351], ['E', 1574, 2351],
]

export default function App() {
  return (
    <div style={{ position: 'absolute', left: 0, top: 0, width: 3141, height: 3452, background: '#FFFFFF', overflow: 'hidden' }}>
      <Cladogram />
      <CladeKey />
      <StackedPanel
        left={0}
        top={1340}
        width={1560}
        height={950}
        plotLeft={206}
        plotTop={75.5}
        plotRight={908}
        plotBottom={848}
        barSize={88}
        names={phylumNames}
        colors={phylumColors}
        values={phylumValues}
        title="Percent of community abundance on Phylum level"
        titleX={94.5}
        legendLeft={952.5}
        legendTop={62.4}
      />
      <StackedPanel
        left={1600}
        top={1380}
        width={1541}
        height={910}
        plotLeft={165}
        plotTop={89.6}
        plotRight={717}
        plotBottom={808.6}
        barSize={68.5}
        names={genusNames}
        colors={genusColors}
        values={genusValues}
        title="Percent of community abundance on Genus level"
        titleX={52.7}
        legendLeft={762}
        legendTop={76}
      />
      <PcaPanel />
      <HeatPanel />
      {panelLetters.map(([letter, left, top]) => (
        <div
          key={letter as string}
          style={{ position: 'absolute', left: left as number, top: top as number, fontFamily: '"Noto Sans"', fontSize: 84, lineHeight: '100px', color: '#000000' }}
        >
          {letter}
        </div>
      ))}
    </div>
  )
}
